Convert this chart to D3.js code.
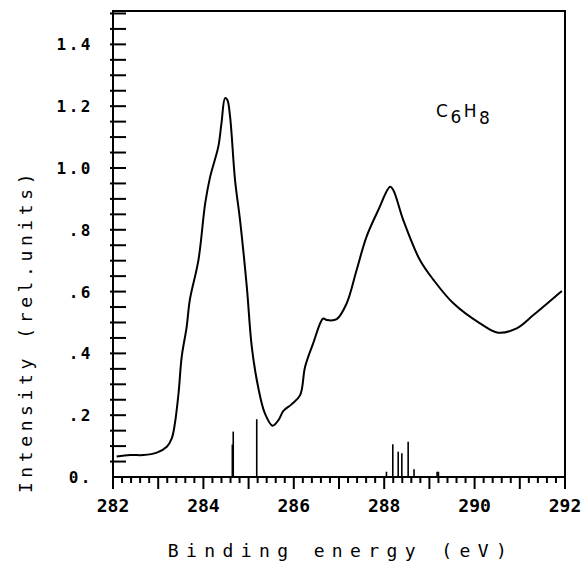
<!DOCTYPE html>
<html lang="en">
<head>
<meta charset="utf-8">
<style type="text/css">
    body { margin: 0; background: #fff; }
    .axis-line { stroke: #000; stroke-width: 2px; fill: none; }
    .tick { stroke: #000; stroke-width: 2px; }
    .curve { stroke: #000; stroke-width: 2px; fill: none; stroke-linejoin: round; }
    .stick { stroke: #000; stroke-width: 1.6px; }
    text { font-family: "DejaVu Sans Mono", monospace; fill: #000; }
</style>
</head>
<body>
<svg width="586" height="578"></svg>

<script src="https://d3js.org/d3.v7.min.js"></script>
<script type="text/javascript">
    // spectrum: binding energy (eV) and intensity
    var energy = [282.08, 282.38, 282.67, 282.97, 283.19, 283.30, 283.37, 283.45, 283.52, 283.63,
        283.70, 283.89, 284.04, 284.15, 284.33, 284.40, 284.48, 284.53, 284.59, 284.70,
        284.81, 284.96, 285.07, 285.21, 285.36, 285.53, 285.66, 285.77, 285.95, 286.14,
        286.25, 286.43, 286.65, 286.73, 286.95, 287.17, 287.39, 287.61, 287.87, 288.13,
        288.20, 288.42, 288.79, 289.09, 289.53, 290.12, 290.52, 290.93, 291.30, 291.93];
    var intensity = [0.066, 0.071, 0.071, 0.079, 0.098, 0.125, 0.174, 0.271, 0.389, 0.486,
        0.573, 0.702, 0.886, 0.972, 1.069, 1.145, 1.226, 1.220, 1.166, 0.961,
        0.832, 0.616, 0.422, 0.292, 0.206, 0.166, 0.184, 0.214, 0.235, 0.265,
        0.357, 0.433, 0.513, 0.508, 0.511, 0.562, 0.670, 0.778, 0.864, 0.939,
        0.929, 0.832, 0.702, 0.638, 0.562, 0.497, 0.467, 0.481, 0.524, 0.602];

    // calculated transitions (stick spectrum)
    var stickEnergy = [284.64, 284.66, 285.18, 288.05, 288.19, 288.31, 288.39, 288.53, 288.66, 289.17, 289.20];
    var stickHeight = [0.105, 0.147, 0.187, 0.017, 0.106, 0.082, 0.077, 0.114, 0.025, 0.017, 0.017];

    var xTickValues = [282, 284, 286, 288, 290, 292];
    var yTickValues = [0, 0.2, 0.4, 0.6, 0.8, 1.0, 1.2, 1.4];
    var yTickLabels = ["0.", ".2", ".4", ".6", ".8", "1.0", "1.2", "1.4"];

    var svg = d3.select("svg");
    var mLeft = 113, mRight = 565, mTop = 11, mBottom = 477;

    var x = d3.scaleLinear().domain([282, 292]).range([mLeft, mRight]);
    var y = d3.scaleLinear().domain([0, 1.508]).range([mBottom, mTop]);

    // frame
    svg.append("path")
        .attr("class", "axis-line")
        .attr("d", "M" + mLeft + "," + mBottom + "V" + mTop + "H" + mRight + "V" + mBottom + "H" + mLeft);

    // x ticks: minor every 0.2, major every 1
    var xMinor = d3.range(0, 51).map(function (i) { return 282 + i * 0.2; });
    svg.append("g").selectAll("line")
        .data(xMinor)
        .enter().append("line")
        .attr("class", "tick")
        .attr("x1", function (d) { return x(d); })
        .attr("x2", function (d) { return x(d); })
        .attr("y1", mBottom)
        .attr("y2", function (d, i) { return mBottom + (i % 5 === 0 ? 12 : 6); });

    svg.append("g").selectAll("text")
        .data(xTickValues)
        .enter().append("text")
        .attr("x", function (d) { return x(d); })
        .attr("y", 512)
        .attr("text-anchor", "middle")
        .style("font-size", "18px")
        .style("font-weight", "bold")
        .text(function (d) { return d; });

    // y ticks every 0.05
    var yMinor = d3.range(1, 31).map(function (i) { return i * 0.05; });
    svg.append("g").selectAll("line")
        .data(yMinor)
        .enter().append("line")
        .attr("class", "tick")
        .attr("x1", mLeft - 3)
        .attr("x2", mLeft + 13)
        .attr("y1", function (d) { return y(d); })
        .attr("y2", function (d) { return y(d); });

    svg.append("g").selectAll("text")
        .data(yTickValues)
        .enter().append("text")
        .attr("x", 93)
        .attr("y", function (d) { return y(d) + 6; })
        .attr("text-anchor", "end")
        .style("font-size", "16px")
        .style("font-weight", "bold")
        .style("letter-spacing", "2.5px")
        .text(function (d, i) { return yTickLabels[i]; });

    // spectrum curve
    var pts = energy.map(function (e, i) { return [e, intensity[i]]; });
    var line = d3.line()
        .x(function (d) { return x(d[0]); })
        .y(function (d) { return y(d[1]); })
        .curve(d3.curveCatmullRom.alpha(0.5));

    svg.append("path")
        .datum(pts)
        .attr("class", "curve")
        .attr("d", line);

    // sticks
    svg.append("g").selectAll("line")
        .data(stickEnergy)
        .enter().append("line")
        .attr("class", "stick")
        .attr("x1", function (d) { return x(d); })
        .attr("x2", function (d) { return x(d); })
        .attr("y1", y(0))
        .attr("y2", function (d, i) { return y(stickHeight[i]); });

    // molecule label
    var lbl = svg.append("text")
        .attr("x", 436)
        .attr("y", 117)
        .style("font-family", "'DejaVu Sans', sans-serif")
        .style("font-size", "17px")
        .style("letter-spacing", "2.5px");
    lbl.append("tspan").text("C");
    lbl.append("tspan").attr("dy", 6).text("6");
    lbl.append("tspan").attr("dy", -6).text("H");
    lbl.append("tspan").attr("dy", 7).text("8");

    // axis titles
    svg.append("text")
        .attr("x", 341)
        .attr("y", 557)
        .attr("text-anchor", "middle")
        .style("font-size", "18px")
        .style("letter-spacing", "7.4px")
        .text("Binding energy (eV)");

    svg.append("text")
        .attr("transform", "translate(32,331) rotate(-90)")
        .attr("text-anchor", "middle")
        .style("font-size", "18px")
        .style("letter-spacing", "4.6px")
        .text("Intensity (rel.units)");
</script>
</body>
</html>
